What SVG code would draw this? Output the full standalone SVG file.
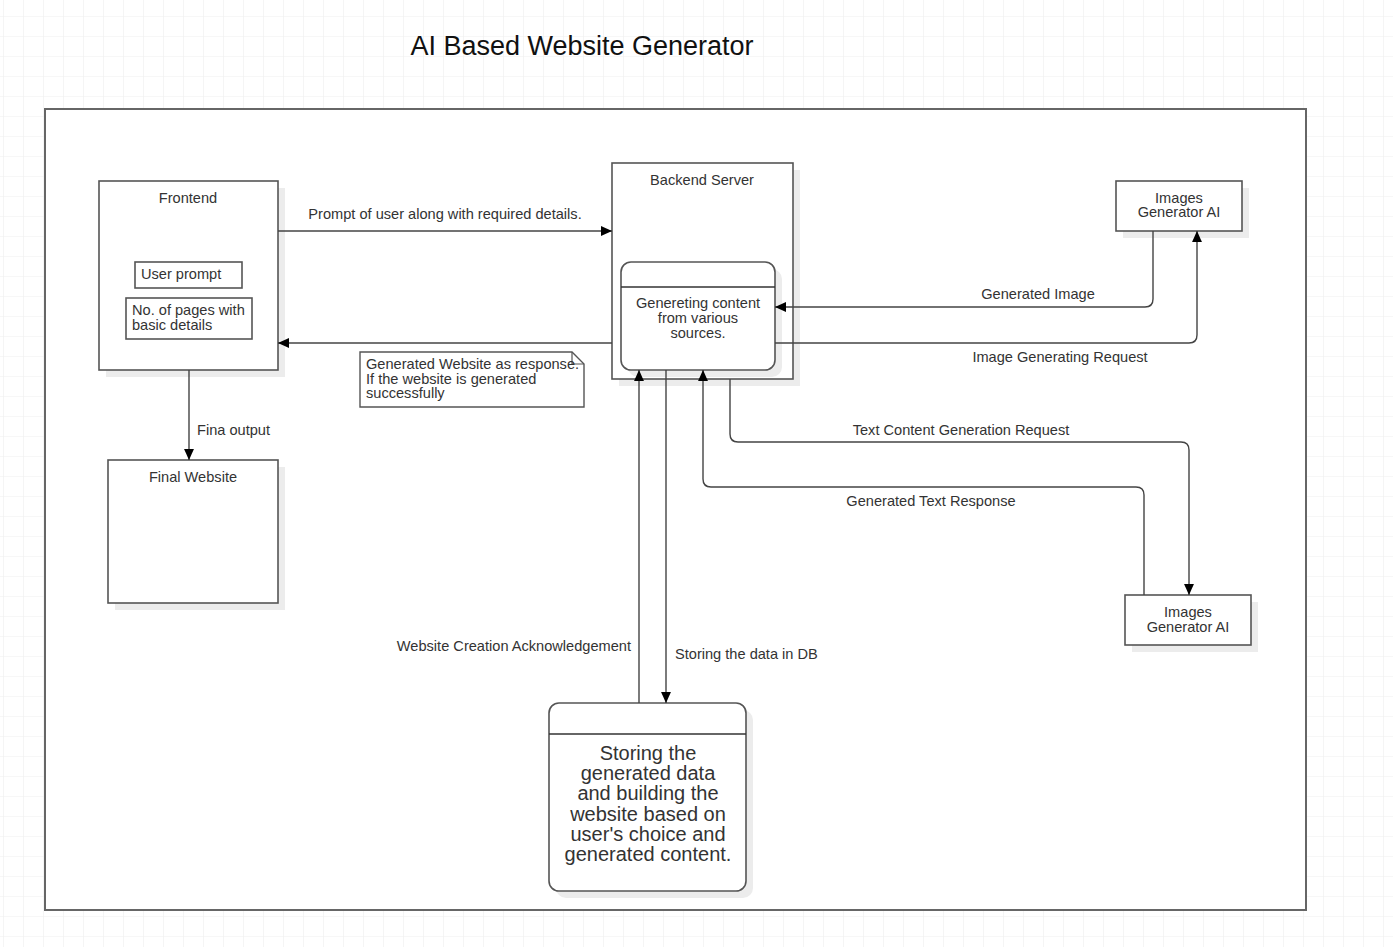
<svg xmlns="http://www.w3.org/2000/svg" width="1393" height="947" viewBox="0 0 1393 947">
<defs>
<pattern id="grid" x="3" y="16" width="20" height="20" patternUnits="userSpaceOnUse">
<path d="M0 0H20M0 0V20" fill="none" stroke="#efefef" stroke-width="1.2"/>
</pattern>
<marker id="arr" viewBox="0 0 10 10" refX="10" refY="5" markerWidth="11" markerHeight="11" markerUnits="userSpaceOnUse" orient="auto">
<path d="M0 0.5L10 5L0 9.5Z" fill="#000"/>
</marker>
<style>
.box{fill:#fff;stroke:#555;stroke-width:1.6}
.sh{fill:#ececec}
.t{font-family:"Liberation Sans",Arial,sans-serif;font-size:14.6px;fill:#333}
.c{text-anchor:middle}
.con{fill:none;stroke:#444;stroke-width:1.4}
</style>
</defs>
<rect width="1393" height="947" fill="#fff"/>
<rect width="1393" height="947" fill="url(#grid)"/>
<text x="582" y="55" class="t c" style="font-size:27px;fill:#111">AI Based Website Generator</text>
<g id="container"><rect x="45" y="109" width="1261" height="801" fill="#fff" stroke="#666" stroke-width="2"/></g>

<g id="frontend">
<rect class="sh" x="106" y="188" width="179" height="189"/>
<rect class="box" x="99" y="181" width="179" height="189"/>
<text x="188" y="203" class="t c">Frontend</text>
<rect class="box" x="135" y="262" width="107" height="26"/>
<text x="141" y="279" class="t">User prompt</text>
<rect class="box" x="126" y="298" width="126" height="41"/>
<text x="132" y="315" class="t">No. of pages with</text>
<text x="132" y="330" class="t">basic details</text>
</g>

<g id="backend">
<rect class="sh" x="619" y="170" width="181" height="216"/>
<rect class="box" x="612" y="163" width="181" height="216"/>
<text x="702" y="185" class="t c">Backend Server</text>
</g>
<g id="generating">
<rect class="sh" x="628" y="269" width="154" height="108" rx="10"/>
<rect class="box" x="621" y="262" width="154" height="108" rx="10"/>
<line x1="621" y1="287" x2="775" y2="287" stroke="#333" stroke-width="1.4"/>
<text x="698" y="308" class="t c">Genereting content</text>
<text x="698" y="323" class="t c">from various</text>
<text x="698" y="338" class="t c">sources.</text>
</g>

<g id="imgai-top">
<rect class="sh" x="1123" y="188" width="126" height="50"/>
<rect class="box" x="1116" y="181" width="126" height="50"/>
<text x="1179" y="203" class="t c">Images</text>
<text x="1179" y="217" class="t c">Generator AI</text>
</g>

<g id="imgai-bottom">
<rect class="sh" x="1132" y="602" width="126" height="50"/>
<rect class="box" x="1125" y="595" width="126" height="50"/>
<text x="1188" y="617" class="t c">Images</text>
<text x="1188" y="632" class="t c">Generator AI</text>
</g>

<g id="final-website">
<rect class="sh" x="115" y="467" width="170" height="143"/>
<rect class="box" x="108" y="460" width="170" height="143"/>
<text x="193" y="482" class="t c">Final Website</text>
</g>

<g id="storage">
<rect class="sh" x="556" y="710" width="197" height="188" rx="10"/>
<rect class="box" x="549" y="703" width="197" height="188" rx="10"/>
<line x1="549" y1="734" x2="746" y2="734" stroke="#333" stroke-width="1.4"/>
<g class="t c" style="font-size:20px">
<text x="648" y="760">Storing the</text>
<text x="648" y="780">generated data</text>
<text x="648" y="800">and building the</text>
<text x="648" y="821">website based on</text>
<text x="648" y="841">user's choice and</text>
<text x="648" y="861">generated content.</text>
</g>
</g>

<g id="note">
<path d="M360 352H572L584 364V407H360Z" fill="#fff" stroke="#555" stroke-width="1.4"/>
<path d="M572 352V364H584" fill="none" stroke="#555" stroke-width="1.2"/>
<text x="366" y="369" class="t">Generated Website as response.</text>
<text x="366" y="384" class="t">If the website is generated</text>
<text x="366" y="398" class="t">successfully</text>
</g>

<g id="connectors">
<path class="con" d="M278 231H612" marker-end="url(#arr)"/>
<path class="con" d="M612 343H278" marker-end="url(#arr)"/>
<path class="con" d="M189 370V460" marker-end="url(#arr)"/>
<path class="con" d="M1153 231V299Q1153 307 1145 307H775" marker-end="url(#arr)"/>
<path class="con" d="M775 343H1189Q1197 343 1197 335V231" marker-end="url(#arr)"/>
<path class="con" d="M730 379V434Q730 442 738 442H1181Q1189 442 1189 450V595" marker-end="url(#arr)"/>
<path class="con" d="M1144 595V495Q1144 487 1136 487H711Q703 487 703 479V370" marker-end="url(#arr)"/>
<path class="con" d="M639 703V370" marker-end="url(#arr)"/>
<path class="con" d="M666 370V703" marker-end="url(#arr)"/>
</g>

<g id="labels">
<text x="445" y="219" class="t c">Prompt of user along with required details.</text>
<text x="197" y="435" class="t">Fina output</text>
<text x="1038" y="299" class="t c">Generated Image</text>
<text x="1060" y="362" class="t c">Image Generating Request</text>
<text x="961" y="435" class="t c">Text Content Generation Request</text>
<text x="931" y="506" class="t c">Generated Text Response</text>
<text x="631" y="651" class="t" text-anchor="end">Website Creation Acknowledgement</text>
<text x="675" y="659" class="t">Storing the data in DB</text>
</g>
</svg>
